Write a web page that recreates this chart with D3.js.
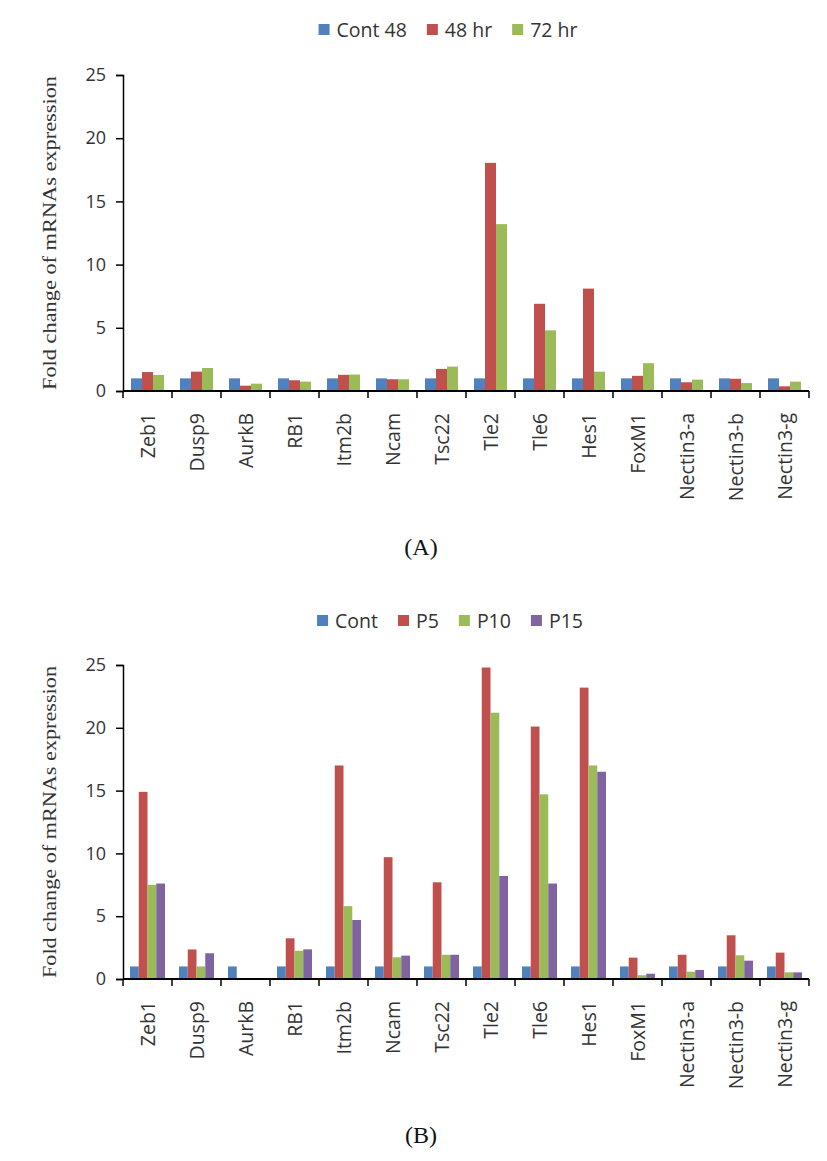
<!DOCTYPE html>
<html>
<head>
<meta charset="utf-8">
<script src="https://cdn.jsdelivr.net/npm/d3@7"></script>
<style>
  html, body { margin: 0; padding: 0; background: #fff; }
  svg { display: block; }
</style>
</head>
<body>
<svg id="chart" width="827" height="1161"></svg>
<script>
const categories = ["Zeb1","Dusp9","AurkB","RB1","Itm2b","Ncam","Tsc22","Tle2","Tle6","Hes1","FoxM1","Nectin3-a","Nectin3-b","Nectin3-g"];
const yTicks = [0, 5, 10, 15, 20, 25];

// Panel A
const seriesA = ["Cont 48", "48 hr", "72 hr"];
const cont48 = [1, 1, 1, 1, 1, 1, 1, 1, 1, 1, 1, 1, 1, 1];
const hr48   = [1.5, 1.53, 0.42, 0.85, 1.28, 0.93, 1.75, 18.05, 6.9, 8.1, 1.2, 0.69, 0.97, 0.37];
const hr72   = [1.27, 1.82, 0.58, 0.74, 1.3, 0.93, 1.93, 13.2, 4.8, 1.53, 2.2, 0.9, 0.63, 0.74];

// Panel B
const seriesB = ["Cont", "P5", "P10", "P15"];
const cont = [1, 1, 1, 1, 1, 1, 1, 1, 1, 1, 1, 1, 1, 1];
const p5   = [14.9, 2.35, 0.08, 3.24, 17.0, 9.7, 7.7, 24.8, 20.1, 23.2, 1.7, 1.93, 3.48, 2.1];
const p10  = [7.5, 1.0, 0, 2.25, 5.8, 1.73, 1.93, 21.2, 14.7, 17.0, 0.3, 0.58, 1.89, 0.53];
const p15  = [7.6, 2.05, 0, 2.36, 4.7, 1.86, 1.93, 8.2, 7.6, 16.5, 0.42, 0.72, 1.46, 0.53];

const colors = ["#4F81BD", "#C0504D", "#9BBB59", "#8064A2"];
const yTitle = "Fold change of mRNAs expression";

const svg = d3.select("#chart");

function drawPanel(opts) {
  const { series, values, top, bottom, left, right, legendY, legendCx, label, labelY, innerPad } = opts;
  const g = svg.append("g");

  const x0 = d3.scaleBand().domain(categories).range([left, right]).paddingInner(0).paddingOuter(0);
  const x1 = d3.scaleBand().domain(series).range([innerPad[0], innerPad[1]]).padding(0);
  const y = d3.scaleLinear().domain([0, 25]).range([bottom, top]);

  // bars
  series.forEach((s, si) => {
    g.append("g").selectAll("rect")
      .data(values[si])
      .join("rect")
      .attr("x", (d, i) => x0(categories[i]) + x1(s))
      .attr("y", d => y(d))
      .attr("width", x1.bandwidth())
      .attr("height", d => y(0) - y(d))
      .attr("fill", colors[si]);
  });

  // y axis
  const yAxis = d3.axisLeft(y).tickValues(yTicks).tickSize(7).tickPadding(10);
  const ya = g.append("g").attr("transform", `translate(${left},0)`).call(yAxis);
  ya.select(".domain").attr("stroke", "#000").attr("stroke-width", 1.5);
  ya.selectAll(".tick line").attr("stroke", "#000").attr("stroke-width", 1.5);
  ya.selectAll(".tick text")
    .attr("font-family", "'Open Sans', sans-serif")
    .attr("font-size", 18)
    .attr("fill", "#333");

  // x axis: line + boundary ticks
  const xa = g.append("g");
  xa.append("line")
    .attr("x1", left).attr("x2", right)
    .attr("y1", bottom).attr("y2", bottom)
    .attr("stroke", "#000").attr("stroke-width", 2);
  const bounds = categories.map(c => x0(c)).concat([x0(categories[categories.length - 1]) + x0.bandwidth()]);
  xa.selectAll("line.bt").data(bounds).join("line")
    .attr("class", "bt")
    .attr("x1", d => d).attr("x2", d => d)
    .attr("y1", bottom).attr("y2", bottom + 7)
    .attr("stroke", "#000").attr("stroke-width", 1.5);
  xa.selectAll("text").data(categories).join("text")
    .attr("transform", d => `translate(${x0(d) + x0.bandwidth() / 2 + 7},${bottom + 22}) rotate(-90)`)
    .attr("text-anchor", "end")
    .attr("font-family", "'Open Sans', sans-serif")
    .attr("font-size", 19.5)
    .attr("fill", "#333")
    .text(d => d);

  // y title
  g.append("text")
    .attr("transform", `translate(${left - 67},${(top + bottom) / 2}) rotate(-90)`)
    .attr("text-anchor", "middle")
    .attr("font-family", "'Liberation Serif', 'Times New Roman', serif")
    .attr("font-size", 19)
    .attr("fill", "#333")
    .attr("textLength", bottom - top - 2)
    .attr("lengthAdjust", "spacingAndGlyphs")
    .text(yTitle);

  // legend
  const lg = g.append("g");
  const items = lg.selectAll("g").data(series).join("g");
  items.append("rect").attr("width", 11).attr("height", 11).attr("y", -13)
    .attr("fill", (d, i) => colors[i]);
  items.append("text").attr("x", 18).attr("y", 0)
    .attr("font-family", "'Open Sans', sans-serif")
    .attr("font-size", 19.5)
    .attr("fill", "#333")
    .text(d => d);
  let cx = 0;
  const widths = [];
  items.each(function () {
    const w = this.querySelector("text").getComputedTextLength() + 18;
    widths.push(w);
  });
  const gap = 20;
  const total = d3.sum(widths) + gap * (widths.length - 1);
  items.attr("transform", (d, i) => {
    const t = `translate(${legendCx - total / 2 + cx},${legendY})`;
    cx += widths[i] + gap;
    return t;
  });

  // panel label
  g.append("text")
    .attr("x", 421).attr("y", labelY)
    .attr("text-anchor", "middle")
    .attr("font-family", "'Liberation Serif', 'Times New Roman', serif")
    .attr("font-size", 24)
    .attr("fill", "#111")
    .text(label);
}

drawPanel({
  series: seriesA, values: [cont48, hr48, hr72],
  top: 75, bottom: 391, left: 123, right: 809,
  legendY: 37, legendCx: 448, label: "(A)", labelY: 555, innerPad: [8, 41]
});

drawPanel({
  series: seriesB, values: [cont, p5, p10, p15],
  top: 665, bottom: 979, left: 123, right: 809,
  legendY: 628, legendCx: 450, label: "(B)", labelY: 1143, innerPad: [7, 42]
});
</script>
</body>
</html>
